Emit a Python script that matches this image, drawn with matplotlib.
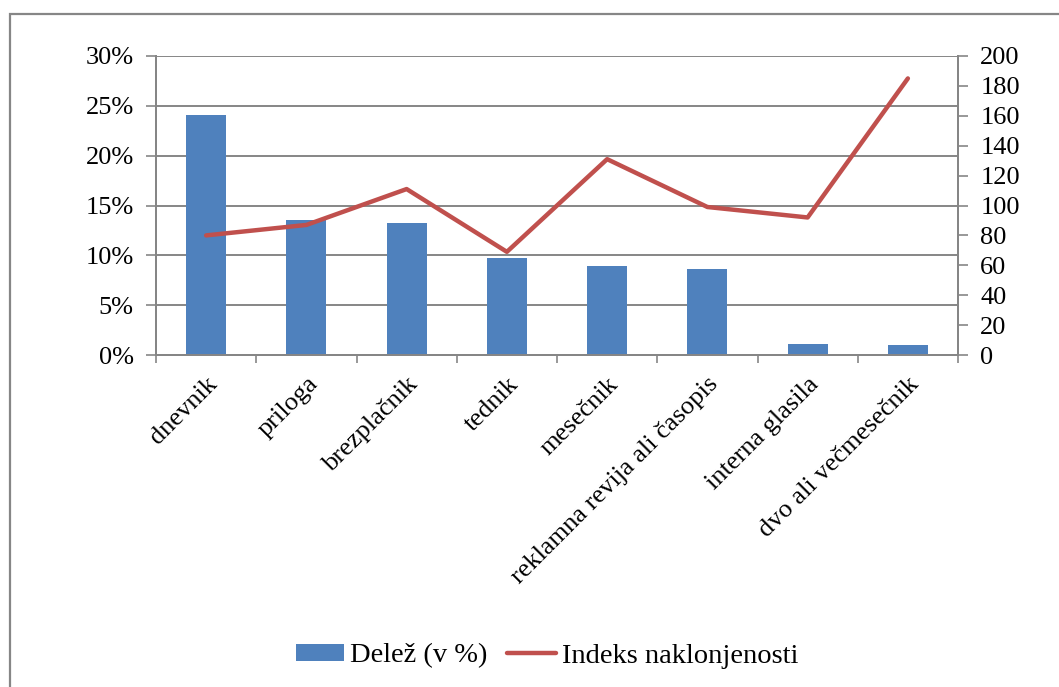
import matplotlib.pyplot as plt
from matplotlib.patches import Rectangle, Patch
from matplotlib.lines import Line2D
from matplotlib.ticker import FuncFormatter

categories = ["dnevnik", "priloga", "brezplačnik", "tednik", "mesečnik",
              "reklamna revija ali časopis", "interna glasila", "dvo ali večmesečnik"]
delez = [24.1, 13.5, 13.25, 9.7, 8.95, 8.6, 1.07, 0.97]   # %
indeks = [80, 87, 111, 69, 131, 99, 92, 185]

bar_color = "#4F81BD"
line_color = "#C0504D"
grid_color = "#868686"

plt.rcParams["font.family"] = ["Liberation Serif", "DejaVu Serif"]
fs = 19

fig = plt.figure(figsize=(10.59, 6.87), dpi=100)
ax = fig.add_axes([156 / 1059, 1 - 355 / 687, 802 / 1059, 299 / 687])
ax2 = ax.twinx()

x = list(range(len(categories)))
ax.bar(x, delez, width=0.4, color=bar_color, zorder=2)
ax2.plot(x, indeks, color=line_color, linewidth=3.2, solid_capstyle="round", zorder=3)

ax.set_xlim(-0.5, len(categories) - 0.5)
ax.set_ylim(0, 30)
ax2.set_ylim(0, 200)
ax.set_yticks(range(0, 31, 5))
ax2.set_yticks(range(0, 201, 20))
ax.yaxis.set_major_formatter(FuncFormatter(lambda v, p: f"{v:.0f}%"))

ax.yaxis.grid(True, color=grid_color, linewidth=1.4, zorder=0)
ax.set_axisbelow(True)

# category ticks sit on the boundaries between bars
ax.set_xticks([i - 0.5 for i in range(len(categories) + 1)], minor=False)
ax.set_xticklabels([])
ax.set_xticks(x, minor=True)
ax.set_xticklabels(categories, minor=True, rotation=45, ha="right", va="top",
                   rotation_mode="anchor", fontsize=fs)
ax.tick_params(axis="x", which="minor", length=0, pad=13)
ax.tick_params(axis="x", which="major", length=6, width=1.2, color=grid_color, direction="out")

ax.tick_params(axis="y", length=7, width=1.2, color=grid_color, labelsize=fs, pad=9)
ax2.tick_params(axis="y", length=7, width=1.2, color=grid_color, labelsize=fs, pad=9)

for a in (ax, ax2):
    for side in ("left", "right", "bottom"):
        a.spines[side].set_color(grid_color)
        a.spines[side].set_linewidth(1.4)
    a.spines["top"].set_visible(False)

handles = [Patch(facecolor=bar_color, edgecolor="none"),
           Line2D([0], [0], color=line_color, linewidth=3.2, solid_capstyle="round")]
fig.legend(handles, ["Delež (v %)", "Indeks naklonjenosti"], loc="center",
           bbox_to_anchor=(547 / 1059, 1 - 656 / 687), ncol=2, frameon=False,
           fontsize=20.5, handlelength=1.7, handleheight=0.5, handletextpad=0.2,
           columnspacing=0.7)

# outer chart frame
fig.patches.append(Rectangle((9.5 / 1059, -0.05), 1.2, 1 - 14 / 687 + 0.05,
                             transform=fig.transFigure, fill=False,
                             edgecolor=grid_color, linewidth=1.6))

fig.savefig("out.png", dpi=100)
